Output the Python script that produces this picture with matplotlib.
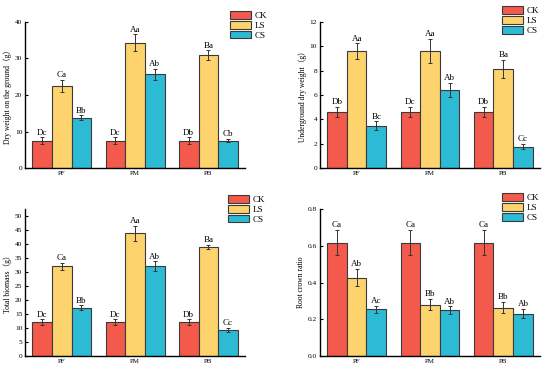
import numpy as np
import matplotlib
matplotlib.use("Agg")
import matplotlib.pyplot as plt

plt.rcParams['font.family'] = ['Liberation Serif', 'Noto Sans CJK SC', 'DejaVu Serif']

groups = ["PF", "PM", "PB"]
series = ["CK", "LS", "CS"]
colors = ["#F45A4B", "#FDD36E", "#2DBAD5"]

# panel 1: dry weight on the ground
dw_mean = {"CK": [7.5, 7.5, 7.5], "LS": [22.5, 34.3, 30.9], "CS": [13.8, 25.7, 7.5]}
dw_err = {"CK": [0.9, 0.9, 0.9], "LS": [1.6, 2.3, 1.3], "CS": [0.6, 1.5, 0.5]}
dw_lab = {"CK": ["Dc", "Dc", "Db"], "LS": ["Ca", "Aa", "Ba"], "CS": ["Bb", "Ab", "Cb"]}

# panel 2: underground dry weight
ug_mean = {"CK": [4.62, 4.62, 4.62], "LS": [9.62, 9.62, 8.14], "CS": [3.48, 6.42, 1.75]}
ug_err = {"CK": [0.43, 0.43, 0.43], "LS": [0.63, 0.98, 0.74], "CS": [0.36, 0.55, 0.22]}
ug_lab = {"CK": ["Db", "Dc", "Db"], "LS": ["Aa", "Aa", "Ba"], "CS": ["Bc", "Ab", "Cc"]}

# panel 3: total biomass
tb_mean = {"CK": [12.1, 12.1, 12.1], "LS": [32.1, 43.8, 39.0], "CS": [17.3, 32.1, 9.3]}
tb_err = {"CK": [1.0, 1.0, 1.0], "LS": [1.3, 2.6, 0.8], "CS": [0.8, 1.7, 0.7]}
tb_lab = {"CK": ["Dc", "Dc", "Db"], "LS": ["Ca", "Aa", "Ba"], "CS": ["Bb", "Ab", "Cc"]}

# panel 4: root crown ratio
rc_mean = {"CK": [0.618, 0.618, 0.618], "LS": [0.427, 0.28, 0.264], "CS": [0.255, 0.249, 0.231]}
rc_err = {"CK": [0.07, 0.07, 0.07], "LS": [0.048, 0.03, 0.03], "CS": [0.02, 0.022, 0.025]}
rc_lab = {"CK": ["Ca", "Ca", "Ca"], "LS": ["Ab", "Bb", "Bb"], "CS": ["Ac", "Ab", "Ab"]}


def draw_panel(ax, mean, err, lab, ylabel, ylim, yticks, ytick_labels, leg_anchor):
    x = np.arange(len(groups))
    width = 0.268
    handles = []
    for i, s in enumerate(series):
        pos = x + (i - 1) * width
        b = ax.bar(pos, mean[s], width, color=colors[i], edgecolor="#3a3a3a",
                   linewidth=0.8, label=s, zorder=2)
        ax.errorbar(pos, mean[s], yerr=err[s], fmt="none", ecolor="#333333",
                    elinewidth=0.7, capsize=1.6, capthick=0.7, zorder=3)
        for p, m, e, t in zip(pos, mean[s], err[s], lab[s]):
            ax.annotate(t, (p, m + e), xytext=(0, 0.5), textcoords="offset points",
                        ha="center", va="bottom", fontsize=6.5)
        handles.append(b)
    ax.set_xlim(-0.5, 2.5)
    ax.set_ylim(*ylim)
    ax.set_xticks(x)
    ax.set_xticklabels(groups, fontsize=5)
    ax.set_yticks(yticks)
    ax.set_yticklabels(ytick_labels, fontsize=5.3)
    ax.tick_params(direction="in", length=2.5, width=0.8, pad=2)
    ax.set_ylabel(ylabel, fontsize=5.5, labelpad=2)
    for sp in ["top", "right"]:
        ax.spines[sp].set_visible(False)
    for sp in ["left", "bottom"]:
        ax.spines[sp].set_linewidth(1.0)
    ax.figure.legend(handles=handles, labels=series, loc="upper left",
                     bbox_to_anchor=leg_anchor, frameon=False, fontsize=6.5,
                     handlelength=2.3, handleheight=0.95, labelspacing=0.08,
                     handletextpad=0.4, borderpad=0, borderaxespad=0)


fig = plt.figure(figsize=(5.5, 3.71), dpi=100)
ax1 = fig.add_axes([0.0455, 0.547, 0.40, 0.394])
ax2 = fig.add_axes([0.5818, 0.547, 0.40, 0.394])
ax3 = fig.add_axes([0.0455, 0.0404, 0.40, 0.396])
ax4 = fig.add_axes([0.5818, 0.0404, 0.40, 0.396])

draw_panel(ax1, dw_mean, dw_err, dw_lab, "Dry weight on the ground（g）",
           (0, 40), [0, 10, 20, 30, 40], ["0", "10", "20", "30", "40"], (0.418, 0.97))
draw_panel(ax2, ug_mean, ug_err, ug_lab, "Underground dry weight（g）",
           (0, 12), [0, 2, 4, 6, 8, 10, 12], ["0", "2", "4", "6", "8", "10", "12"], (0.913, 0.983))
draw_panel(ax3, tb_mean, tb_err, tb_lab, "Total biomass（g）",
           (0, 52.5), list(range(0, 55, 5)), [str(v) for v in range(0, 55, 5)], (0.415, 0.474))
draw_panel(ax4, rc_mean, rc_err, rc_lab, "Root crown ratio",
           (0, 0.8), [0, 0.2, 0.4, 0.6, 0.8], ["0.0", "0.2", "0.4", "0.6", "0.8"], (0.913, 0.479))

fig.savefig("out.png", dpi=100)
